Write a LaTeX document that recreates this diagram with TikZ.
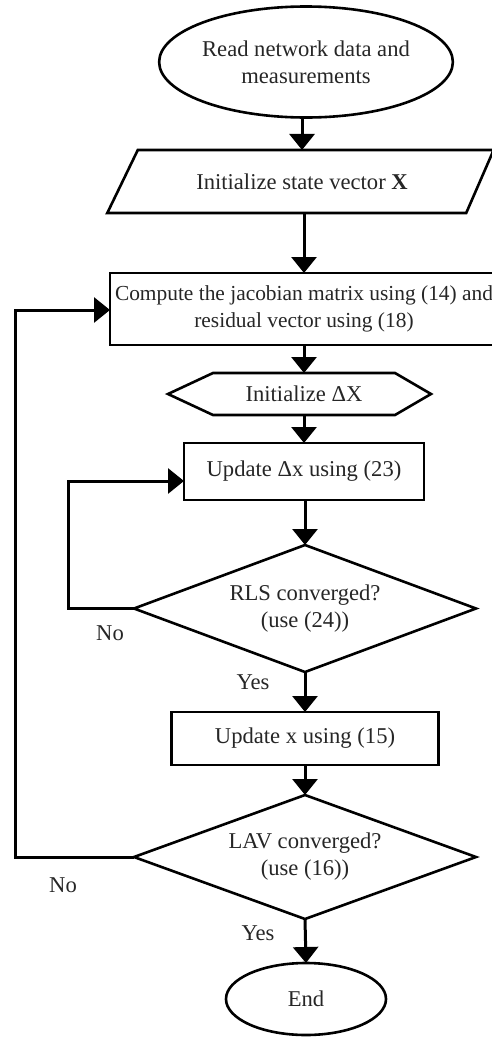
\documentclass[tikz,border=0pt]{standalone}
\usepackage{fontspec}
\setmainfont{Liberation Serif}
\usetikzlibrary{shapes.geometric,arrows.meta,calc}
\begin{document}
\begin{tikzpicture}[x=1pt,y=-1pt,
  every node/.style={font=\fontsize{22.6}{27}\selectfont, inner sep=0pt, outer sep=0pt, text=black!85},
  lw/.style={line width=2.6pt},
  box/.style={draw, lw, rectangle},
  term/.style={draw, lw, ellipse},
  decision/.style={draw, lw, diamond, align=center, aspect=2.7},
  arr/.style={line width=3pt, -{Triangle[width=25pt,length=16pt]}},
  lbl/.style={}]
\useasboundingbox (0,0) rectangle (492,1039);

\node[term, minimum width=255pt, minimum height=111pt, align=center] (start) at (306,62) {Read network data and\\measurements};
\node[draw, lw, trapezium, trapezium left angle=39, trapezium right angle=138, trapezium stretches=true, minimum width=387pt, minimum height=63pt] (init) at (302,181.5) {Initialize state vector \textbf{X}};
\node[box, minimum width=388pt, minimum height=72pt, align=center, font=\fontsize{21.4}{27}\selectfont] (r1) at (304,309) {Compute the jacobian matrix using (14) and\\residual vector using (18)};
\node[minimum width=182pt, minimum height=42pt] (hx) at (304,394) {Initialize ΔX};
\draw[lw] (hx.north west) -- (hx.north east) -- ($(hx.east)+(36,0)$) -- (hx.south east) -- (hx.south west) -- ($(hx.west)+(-45,0)$) -- cycle;
\node[box, minimum width=240pt, minimum height=57pt] (r2) at (304,471.5) {Update Δx using (23)};
\node[decision, minimum width=342pt, minimum height=127pt] (d1) at (305,608.5) {RLS converged?\\(use (24))};
\node[box, minimum width=267pt, minimum height=53pt] (r3) at (305,738.5) {Update x using (15)};
\node[decision, minimum width=342pt, minimum height=124pt] (d2) at (305,857) {LAV converged?\\(use (16))};
\node[term, minimum width=160pt, minimum height=72pt] (end) at (306,999) {End};

\node[lbl] (no1) at (110,633) {No};
\node[lbl] (yes1) at (253,682) {Yes};
\node[lbl] (no2) at (63,885) {No};
\node[lbl] (yes2) at (258,933) {Yes};

\coordinate (c1) at (68,481);
\coordinate (c2) at (15,310);

\draw[arr] (start.south -| init.north) -- (init.north);
\draw[arr] (init.south -| r1.north) -- (r1.north);
\draw[arr] (r1.south) -- (hx.north);
\draw[arr] (hx.south) -- (r2.north);
\draw[arr] (r2.south) -- (r2.south -| d1.north) -- (d1.north);
\draw[arr] (d1.south) -- (r3.north);
\draw[arr] (r3.south) -- (d2.north);
\draw[arr] (d2.south) -- (end.north);
\draw[arr] (d1.west) -| (c1) -- (c1 -| r2.west);
\draw[arr] (d2.west) -| (c2) -- (c2 -| r1.west);
\end{tikzpicture}
\end{document}
